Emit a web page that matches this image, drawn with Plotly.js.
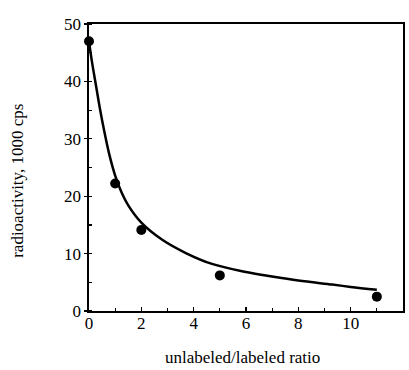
<!DOCTYPE html>
<html>
<head>
<meta charset="utf-8">
<script src="https://cdn.plot.ly/plotly-3.0.1.min.js"></script>
<style>html,body{margin:0;padding:0;background:#fff}#chart{width:409px;height:370px}</style>
</head>
<body>
<div id="chart"></div>
<script>
// measured points
var ratioPts = [0, 1, 2, 5, 11];
var activityPts = [47.0, 22.2, 14.1, 6.2, 2.5];
// fitted curve
var curveX = [0, 0.1, 0.27, 0.42, 0.58, 0.78, 1.0, 1.25, 1.5, 2.0, 2.8, 3.7, 4.7, 6.0, 7.0, 8.0, 9.3, 10.0, 11.0];
var curveY = [47.0, 43.8, 39.2, 35.2, 31.4, 27.2, 23.6, 20.6, 18.4, 15.4, 12.4, 10.1, 8.2, 6.8, 6.0, 5.3, 4.6, 4.2, 3.7];
var xTickVals = [0, 2, 4, 6, 8, 10, 12];
var yTickVals = [0, 10, 20, 30, 40, 50];
var xTitle = 'unlabeled/labeled ratio';
var yTitle = 'radioactivity, 1000 cps';

var font = {family: '"Liberation Serif", "DejaVu Serif", serif', color: '#000'};

var traces = [
  {x: curveX, y: curveY, mode: 'lines', type: 'scatter', line: {color: '#000', width: 2.5, shape: 'spline', smoothing: 1}, hoverinfo: 'skip'},
  {x: ratioPts, y: activityPts, mode: 'markers', type: 'scatter', marker: {color: '#000', size: 10}, cliponaxis: false}
];

var layout = {
  width: 409, height: 370,
  margin: {l: 89, r: 6, t: 24, b: 59},
  paper_bgcolor: '#fff', plot_bgcolor: '#fff',
  showlegend: false,
  font: Object.assign({size: 17}, font),
  xaxis: {
    range: [0, 12], tickvals: xTickVals, ticktext: xTickVals.map(String),
    showgrid: false, zeroline: false,
    showline: true, linecolor: '#000', linewidth: 1.7, mirror: true,
    ticks: 'inside', ticklen: 4, tickcolor: '#000', tickwidth: 1.2,
    minor: {dtick: 1, ticks: 'inside', ticklen: 3, tickcolor: '#000', showgrid: false},
    ticklabelstandoff: -4,
    tickfont: Object.assign({size: 17}, font)
  },
  yaxis: {
    range: [0, 50], tickvals: yTickVals, ticktext: yTickVals.map(String),
    showgrid: false, zeroline: false,
    showline: true, linecolor: '#000', linewidth: 1.7, mirror: true,
    ticks: 'outside', ticklen: 3, tickcolor: '#000', tickwidth: 1.2,
    minor: {dtick: 5, ticks: 'inside', ticklen: 3, tickcolor: '#000', showgrid: false},
    tickfont: Object.assign({size: 17}, font)
  },
  annotations: [
    {text: xTitle, xref: 'paper', yref: 'paper', x: 0.49, y: -0.162, xanchor: 'center', yanchor: 'middle', showarrow: false, font: Object.assign({size: 17}, font)},
    {text: yTitle, xref: 'paper', yref: 'paper', x: -0.228, y: 0.455, xanchor: 'center', yanchor: 'middle', textangle: -90, showarrow: false, font: Object.assign({size: 17}, font)}
  ]
};

Plotly.newPlot('chart', traces, layout, {staticPlot: true, displayModeBar: false});
</script>
</body>
</html>
